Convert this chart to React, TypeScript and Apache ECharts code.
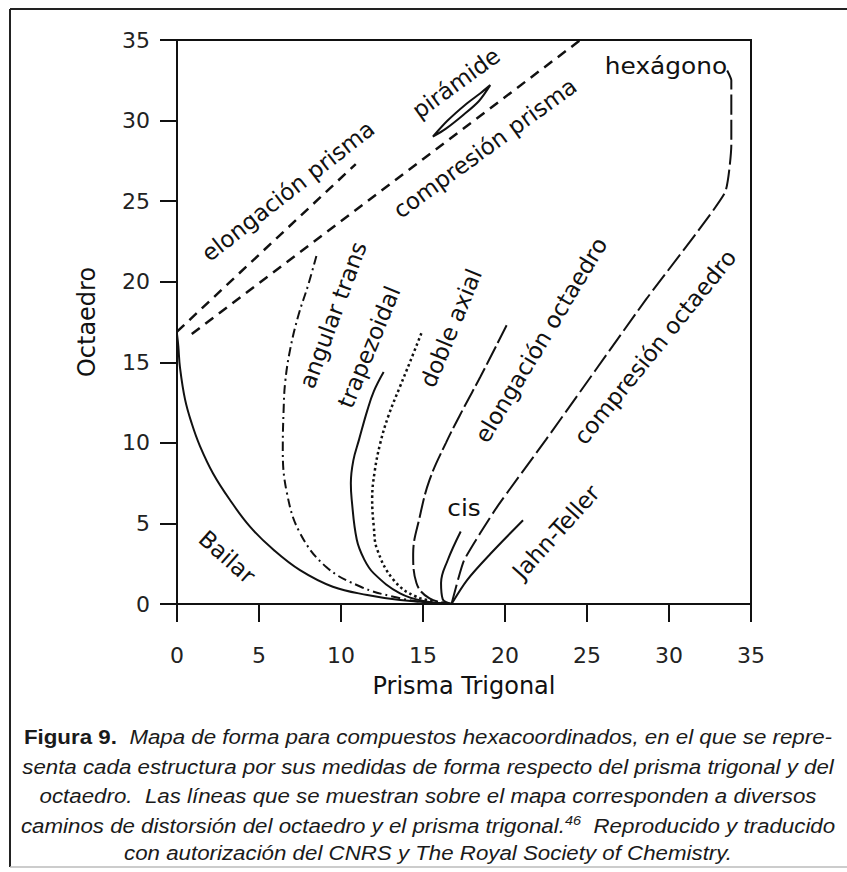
import React, { useEffect, useRef } from 'react';
import * as echarts from 'echarts';

// Axis ranges (Prisma Trigonal = x, Octaedro = y)
const X_MIN = 0, X_MAX = 35, X_STEP = 5;
const Y_MIN = 0, Y_MAX = 35, Y_STEP = 5;

// Distortion paths, [S(TPR), S(Oh)]
const bailar = [[0, 16.74], [0.08, 16.0], [0.18, 14.7], [0.49, 12.7], [0.9, 11.2], [1.4, 9.8], [2.2, 8.1], [3.2, 6.5], [4.45, 4.8], [5.9, 3.35], [7.5, 2.1], [9.5, 1.07], [11.6, 0.56], [13.6, 0.25], [16.74, 0]];
const angularTrans = [[8.5, 21.6], [8.0, 19.8], [7.4, 17.9], [6.9, 15.8], [6.6, 13.8], [6.5, 12.0], [6.45, 9.6], [6.7, 6.9], [7.5, 4.4], [9.1, 2.3], [11.2, 1.07], [13.2, 0.45], [15.0, 0.12], [16.74, 0]];
const trapezoidal = [[12.6, 14.4], [12.0, 13.2], [11.6, 12.0], [11.1, 10.2], [10.75, 8.9], [10.6, 7.5], [10.65, 6.5], [10.96, 4.0], [11.4, 2.8], [12.0, 1.9], [13.6, 0.66], [15.2, 0.15], [16.74, 0]];
const dobleAxial = [[14.9, 16.8], [14.2, 15.0], [13.6, 13.5], [12.9, 11.7], [12.4, 10.0], [12.05, 8.2], [11.9, 6.5], [12.0, 4.8], [12.2, 3.4], [13.2, 1.5], [14.6, 0.45], [16.74, 0]];
const elongacionOctaedro = [[20.1, 17.3], [18.5, 14.1], [17.5, 12.2], [16.4, 10.0], [15.4, 7.7], [14.8, 5.4], [14.4, 3.1], [14.6, 1.3], [15.4, 0.35], [16.74, 0]];
const cis = [[16.74, 0], [16.2, 0.3], [16.1, 1.3], [16.5, 2.7], [17.3, 4.5]];
const jahnTeller = [[16.74, 0], [17.7, 1.5], [19.1, 3.1], [21.1, 5.2]];
const compresionOctaedro = [[16.74, 0], [17.5, 2.7], [19.5, 6.0], [22.5, 10.2], [28.6, 18.9], [33.4, 25.5], [33.8, 28.5], [33.8, 32.5], [33.5, 33.2]];
const elongacionPrisma = [[0, 16.9], [10.9, 27.3]];
const compresionPrisma = [[0.9, 16.75], [24.6, 35]];
const piramide = [[15.6, 29.0], [16.5, 30.0], [17.6, 31.0], [18.5, 31.7], [19.1, 32.2], [18.4, 31.2], [17.4, 30.3], [16.4, 29.5], [15.6, 29.0]];

// Caption lines
const captionLines = [
  '{b|Figura 9.}{i|  Mapa de forma para compuestos hexacoordinados, en el que se repre-}',
  '{i|senta cada estructura por sus medidas de forma respecto del prisma trigonal y del}',
  '{i|octaedro.  Las líneas que se muestran sobre el mapa corresponden a diversos}',
  '{i|caminos de distorsión del octaedro y el prisma trigonal.}{s|46}{i|  Reproducido y traducido}',
  '{i|con autorización del CNRS y The Royal Society of Chemistry.}',
];

const INK = '#111';
const SANS = 'DejaVu Sans, Verdana, sans-serif';
const CAP = 'Liberation Sans, Arial, sans-serif';

function path(name: string, data: number[][], type: any, smooth: number | boolean = 0.35, width = 2) {
  return {
    name,
    type: 'line',
    data,
    smooth,
    showSymbol: false,
    symbol: 'none',
    silent: true,
    lineStyle: { color: INK, width, type, cap: 'butt' },
  };
}

function label(text: string, x: number, y: number, deg: number, size = 23, sx = 1) {
  return {
    type: 'text',
    x,
    y,
    scaleX: sx,
    rotation: (deg * Math.PI) / 180,
    silent: true,
    style: {
      text,
      fill: INK,
      fontFamily: SANS,
      fontSize: size,
      textAlign: 'center',
      textVerticalAlign: 'middle',
      align: 'center',
      verticalAlign: 'middle',
    },
  };
}

export default function App() {
  const ref = useRef<HTMLDivElement>(null);
  useEffect(() => {
    const chart = echarts.init(ref.current!, null, { renderer: 'svg' });
    const captionY = [737, 767, 796, 826, 853];
    const caption = captionLines.map((t, i) => ({
      type: 'text',
      x: 428,
      y: captionY[i],
      scaleX: 1.115,
      silent: true,
      style: {
        text: t,
        textAlign: 'center',
        textVerticalAlign: 'middle',
        align: 'center',
        verticalAlign: 'middle',
        fill: '#1a1a1a',
        fontFamily: CAP,
        fontSize: 20,
        rich: {
          b: { fontFamily: CAP, fontSize: 20, fontWeight: 'bold', fill: '#1a1a1a', color: '#1a1a1a', lineHeight: 24 },
          i: { fontFamily: CAP, fontSize: 20, fontStyle: 'italic', fill: '#1a1a1a', color: '#1a1a1a', lineHeight: 24 },
          s: { fontFamily: CAP, fontSize: 13, fontStyle: 'italic', fill: '#1a1a1a', color: '#1a1a1a', lineHeight: 24, verticalAlign: 'top' },
        },
      },
    }));

    chart.setOption({
      animation: false,
      backgroundColor: '#fff',
      grid: { left: 177, right: 96, top: 40, bottom: 268, show: true, borderColor: INK, borderWidth: 2, backgroundColor: 'transparent' },
      xAxis: {
        type: 'value',
        min: X_MIN,
        max: X_MAX,
        interval: X_STEP,
        name: 'Prisma Trigonal',
        nameLocation: 'middle',
        nameGap: 70,
        nameTextStyle: { fontFamily: SANS, fontSize: 24, color: INK },
        axisLine: { show: true, onZero: false, lineStyle: { color: INK, width: 2 } },
        axisTick: { show: true, length: 18, lineStyle: { color: INK, width: 2 } },
        axisLabel: { margin: 40, fontFamily: SANS, fontSize: 22, color: '#222' },
        splitLine: { show: false },
      },
      yAxis: {
        type: 'value',
        min: Y_MIN,
        max: Y_MAX,
        interval: Y_STEP,
        name: 'Octaedro',
        nameLocation: 'middle',
        nameGap: 78,
        nameTextStyle: { fontFamily: SANS, fontSize: 24, color: INK },
        axisLine: { show: true, onZero: false, lineStyle: { color: INK, width: 2 } },
        axisTick: { show: true, length: 17, lineStyle: { color: INK, width: 2 } },
        axisLabel: { margin: 27, fontFamily: SANS, fontSize: 22, color: '#222' },
        splitLine: { show: false },
      },
      series: [
        path('Bailar', bailar, 'solid', 0.4),
        path('angular trans', angularTrans, [9, 4, 2, 4], 0.4),
        path('trapezoidal', trapezoidal, 'solid', 0.4),
        path('doble axial', dobleAxial, [2.5, 3], 0.4, 2.5),
        path('elongación octaedro', elongacionOctaedro, [20, 4], 0.4),
        path('cis', cis, 'solid', 0.4),
        path('Jahn-Teller', jahnTeller, 'solid', 0.3),
        path('compresión octaedro', compresionOctaedro, [20, 5], 0.15),
        path('elongación prisma', elongacionPrisma, [10, 7], false, 2.5),
        path('compresión prisma', compresionPrisma, [10, 7], false, 2.5),
        path('pirámide', piramide, 'solid', 0.3),
      ],
      graphic: [
        label('elongación prisma', 288, 191, 38),
        label('compresión prisma', 485, 148, 36),
        label('pirámide', 456, 83, 36),
        label('hexágono', 666, 66, 0, 23, 1.08),
        label('angular trans', 333, 315, 69.7),
        label('trapezoidal', 369, 347, 67.7),
        label('doble axial', 451, 328, 67.5),
        label('elongación octaedro', 541, 340, 59),
        label('cis', 464, 508, 0, 23, 1.08),
        label('compresión octaedro', 655, 347, 51),
        label('Jahn-Teller', 556, 532, 48),
        label('Bailar', 227, 557, -41.5),
        { type: 'line', silent: true, shape: { x1: 10, y1: 9, x2: 847, y2: 9 }, style: { stroke: '#222', lineWidth: 2 } },
        { type: 'line', silent: true, shape: { x1: 10, y1: 9, x2: 10, y2: 867 }, style: { stroke: '#222', lineWidth: 2 } },
        { type: 'line', silent: true, shape: { x1: 10, y1: 867, x2: 847, y2: 867 }, style: { stroke: '#bbb', lineWidth: 1.5 } },
        ...caption,
      ],
    });
    return () => chart.dispose();
  }, []);
  return <div ref={ref} style={{ position: 'fixed', left: 0, top: 0, width: 847, height: 872, background: '#fff' }} />;
}
